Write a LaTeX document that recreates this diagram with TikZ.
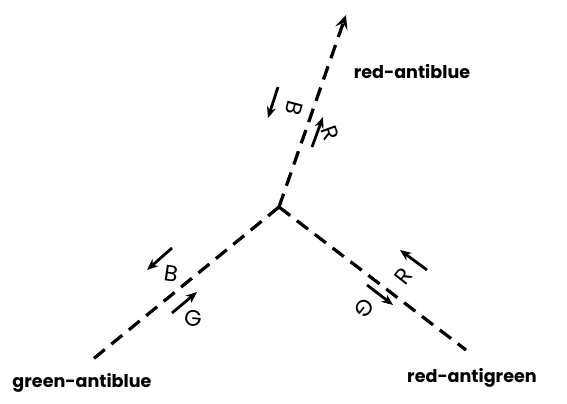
\documentclass[tikz,border=0pt]{standalone}
\usepackage{fontspec}
\setmainfont{Poppins}
\usetikzlibrary{arrows.meta}

\begin{document}
\begin{tikzpicture}[x=0.025cm, y=-0.025cm,
    gluon/.style={line width=2.3pt, dash pattern=on 10pt off 6pt},
    flow/.style={line width=2pt, -{Stealth[length=8pt,width=6.5pt]}},
    colour/.style={font=\fontsize{16}{16}\selectfont},
    legname/.style={font=\fontsize{12.5}{12.5}\selectfont\bfseries}]
    \useasboundingbox (0,0) rectangle (567,403);

    % the three legs
    \coordinate (v) at (279,207);
    \coordinate (top) at (346,15);
    \coordinate (left) at (92,360);
    \coordinate (right) at (466,350);
    \draw[gluon, -{Stealth[length=10pt,width=9pt,inset=4pt]}] (v) -- (top);
    \draw[gluon] (v) -- (left);
    \draw[gluon] (v) -- (right);

    \node[legname] (rab) at (412,72) {red-antiblue};
    \node[legname] (gab) at (82,383) {green-antiblue};
    \node[legname] (rag) at (472,378) {red-antigreen};

    % colour flow, top leg
    \coordinate (tb1) at (278,87);  \coordinate (tb2) at (268,118);
    \coordinate (tr1) at (312,147); \coordinate (tr2) at (323,117);
    \draw[flow] (tb1) -- (tb2);
    \draw[flow] (tr1) -- (tr2);
    \node[colour, rotate=-105] (tB) at (294,108) {B};
    \node[colour, rotate=-70] (tR) at (330,133) {R};

    % colour flow, left leg
    \coordinate (lb1) at (172,248); \coordinate (lb2) at (147,270);
    \coordinate (lg1) at (172,313); \coordinate (lg2) at (197,292);
    \draw[flow] (lb1) -- (lb2);
    \draw[flow] (lg1) -- (lg2);
    \node[colour, rotate=-8] (lB) at (171,274) {B};
    \node[colour, rotate=-5] (lG) at (193,318) {G};

    % colour flow, right leg
    \coordinate (rr1) at (427,270); \coordinate (rr2) at (400,250);
    \coordinate (rg1) at (367,285); \coordinate (rg2) at (393,305);
    \draw[flow] (rr1) -- (rr2);
    \draw[flow] (rg1) -- (rg2);
    \node[colour, rotate=52] (rR) at (404,276) {R};
    \node[colour, rotate=-128] (rG) at (364,308) {G};
\end{tikzpicture}
\end{document}
